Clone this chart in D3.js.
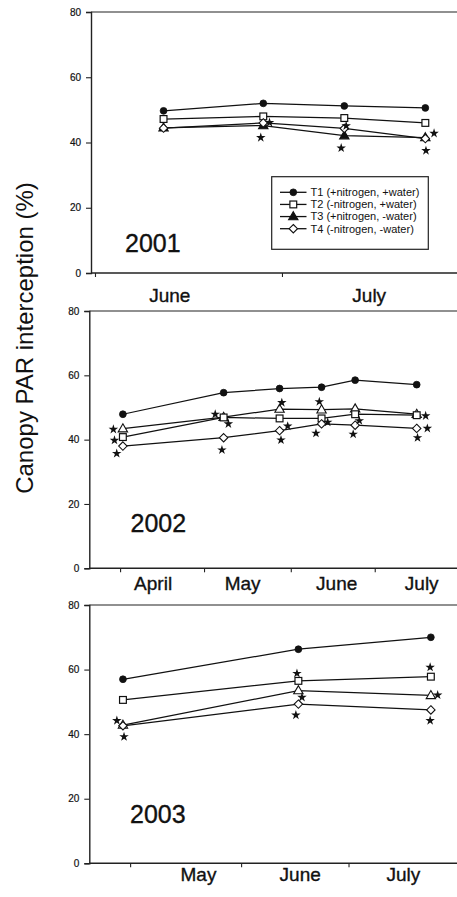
<!DOCTYPE html>
<html><head><meta charset="utf-8">
<script src="https://cdn.jsdelivr.net/npm/d3@7"></script>
<style>
html,body{margin:0;padding:0;background:#fff;}
svg{display:block;}
text{font-family:"Liberation Sans",Arial,Helvetica,sans-serif;fill:#111;}
</style></head>
<body>
<svg id="chart" width="457" height="897"></svg>
<script>
// ---------- DATA ----------
const seriesNames = ["T1 (+nitrogen, +water)", "T2 (-nitrogen, +water)", "T3 (+nitrogen, -water)", "T4 (-nitrogen, -water)"];
const yearLabels = ["2001", "2002", "2003"];
const yTicks = [0, 20, 40, 60, 80];
const yTitle = "Canopy PAR interception (%)";

// x values are day of year
const doy2001 = [163, 179, 192, 205];
const t1_2001 = [49.7, 52.0, 51.2, 50.6];
const t2_2001 = [47.2, 48.0, 47.5, 46.0];
const t3_2001 = [44.5, 45.2, 42.1, 41.5];
const t4_2001 = [44.4, 46.0, 44.3, 41.2];
const stars2001 = [[178.6, 41.5], [180.0, 46.1], [191.5, 38.3], [192.3, 45.1], [205.1, 37.5], [206.4, 42.8]];
const monthTicks2001 = [152, 182];
const monthNames2001 = ["June", "July"];
const monthLabelPos2001 = [164, 196];

const doy2002 = [92, 128, 148, 163, 175, 197];
const t1_2002 = [47.9, 54.6, 55.9, 56.3, 58.5, 57.1];
const t2_2002 = [40.8, 46.9, 46.6, 46.6, 47.9, 47.6];
const t3_2002 = [43.4, 47.0, 49.5, 49.3, 49.6, 47.9];
const t4_2002 = [38.0, 40.6, 42.8, 44.9, 44.5, 43.5];
const stars2002 = [[88.6, 43.2], [89.0, 39.8], [89.8, 35.7], [125.0, 47.9], [129.7, 44.9], [127.4, 36.8],
  [148.8, 51.5], [150.9, 44.2], [148.5, 39.9], [162.2, 51.8], [165.2, 45.4], [161.0, 42.0],
  [176.5, 45.9], [174.3, 41.7], [200.2, 47.4], [200.8, 43.5], [197.3, 40.6]];
const monthTicks2002 = [91, 121, 152, 182];
const monthNames2002 = ["April", "May", "June", "July"];
const monthLabelPos2002 = [102.8, 134.8, 168.4, 198.8];

const doy2003 = [119, 168, 205];
const t1_2003 = [57.0, 66.3, 70.0];
const t2_2003 = [50.6, 56.5, 57.8];
const t3_2003 = [42.8, 53.5, 52.0];
const t4_2003 = [42.6, 49.3, 47.5];
const stars2003 = [[117.3, 44.2], [119.3, 39.2], [167.6, 58.8], [169.0, 51.4], [167.3, 45.9],
  [204.8, 60.7], [206.9, 52.1], [204.8, 44.2]];
const monthTicks2003 = [121, 152, 182];
const monthNames2003 = ["May", "June", "July"];
const monthLabelPos2003 = [140.1, 168.5, 197.3];

// ---------- LAYOUT ----------
const panels = [
  {year: yearLabels[0], doy: doy2001, series: [t1_2001, t2_2001, t3_2001, t4_2001], stars: stars2001,
   ticks: monthTicks2001, names: monthNames2001, labelPos: monthLabelPos2001,
   xDomain: [151.36, 210.08], left: 91, top: 12, bottom: 273, monthBase: 302,
   yearX: 125, yearY: 251.5, openTri: false, legend: true},
  {year: yearLabels[1], doy: doy2002, series: [t1_2002, t2_2002, t3_2002, t4_2002], stars: stars2002,
   ticks: monthTicks2002, names: monthNames2002, labelPos: monthLabelPos2002,
   xDomain: [80.0, 211.4], left: 89.3, top: 311, bottom: 568.3, monthBase: 589.5,
   yearX: 130.5, yearY: 531.5, openTri: true, legend: false},
  {year: yearLabels[2], doy: doy2003, series: [t1_2003, t2_2003, t3_2003, t4_2003], stars: stars2003,
   ticks: monthTicks2003, names: monthNames2003, labelPos: monthLabelPos2003,
   xDomain: [109.6, 212.3], left: 89.3, top: 605, bottom: 863.3, monthBase: 881,
   yearX: 130, yearY: 823.3, openTri: true, legend: false}
];
const RIGHT = 457;
const markerOrder = [2, 1, 3, 0];

const svg = d3.select("#chart");
svg.append("rect").attr("width", 457).attr("height", 897).attr("fill", "#fff");

function marker(g, type, x, y, openTri) {
  if (type === 0) {
    g.append("circle").attr("cx", x).attr("cy", y).attr("r", 3.4).attr("fill", "#111").attr("stroke", "#111").attr("stroke-width", 0.8);
  } else if (type === 1) {
    g.append("rect").attr("x", x - 3.4).attr("y", y - 3.4).attr("width", 6.8).attr("height", 6.8)
      .attr("fill", "#fff").attr("stroke", "#111").attr("stroke-width", 1.2);
  } else if (type === 2) {
    g.append("path").attr("d", d3.symbol(d3.symbolTriangle, 38)()).attr("transform", `translate(${x},${y + 0.5})`)
      .attr("fill", openTri ? "#fff" : "#111").attr("stroke", "#111").attr("stroke-width", 1.1);
  } else {
    g.append("path").attr("d", `M0,-4.2L4.2,0L0,4.2L-4.2,0Z`).attr("transform", `translate(${x},${y})`)
      .attr("fill", "#fff").attr("stroke", "#111").attr("stroke-width", 1.1);
  }
}

panels.forEach(p => {
  const x = d3.scaleLinear().domain(p.xDomain).range([p.left, RIGHT]);
  const y = d3.scaleLinear().domain([0, 80]).range([p.bottom, p.top]);
  const g = svg.append("g");

  // frame: top line
  g.append("line").attr("x1", p.left).attr("x2", RIGHT).attr("y1", p.top).attr("y2", p.top)
    .attr("stroke", "#222").attr("stroke-width", 1.2);

  // y axis
  const ya = g.append("g").attr("transform", `translate(${p.left},0)`)
    .call(d3.axisLeft(y).tickValues(yTicks).tickSize(5).tickPadding(5).tickFormat(d3.format("d")));
  ya.select(".domain").attr("stroke", "#222").attr("stroke-width", 1.4);
  ya.selectAll(".tick line").attr("stroke", "#222").attr("stroke-width", 1.1);
  ya.selectAll(".tick text").attr("font-size", 10).attr("font-family", "Liberation Sans, Arial, sans-serif")
    .attr("fill", "#111").attr("stroke", "#111").attr("stroke-width", 0.2);

  // x axis
  const xa = g.append("g").attr("transform", `translate(0,${p.bottom})`)
    .call(d3.axisBottom(x).tickValues(p.ticks).tickSize(4).tickFormat(""));
  xa.select(".domain").attr("d", `M${p.left},0H${RIGHT}`).attr("stroke", "#222").attr("stroke-width", 1.4);
  xa.selectAll(".tick line").attr("stroke", "#222").attr("stroke-width", 1.1);

  // month labels
  g.selectAll(".month").data(p.names).enter().append("text")
    .attr("x", (d, i) => x(p.labelPos[i])).attr("y", p.monthBase)
    .attr("text-anchor", "middle").attr("font-size", 19)
    .attr("stroke", "#111").attr("stroke-width", 0.35)
    .text(d => d);

  // year label
  g.append("text").attr("x", p.yearX).attr("y", p.yearY).attr("font-size", 25)
    .attr("stroke", "#111").attr("stroke-width", 0.35).text(p.year);

  // lines
  const line = d3.line().x((d, i) => x(p.doy[i])).y(d => y(d));
  for (let s = p.series.length - 1; s >= 0; s--) {
    g.append("path").attr("d", line(p.series[s])).attr("fill", "none")
      .attr("stroke", "#111").attr("stroke-width", 1.25);
  }
  markerOrder.forEach(s => {
    p.series[s].forEach((v, i) => marker(g, s, x(p.doy[i]), y(v), p.openTri));
  });

  // significance stars
  g.selectAll(".star").data(p.stars).enter().append("path")
    .attr("d", d3.symbol(d3.symbolStar, 28)())
    .attr("transform", d => `translate(${x(d[0])},${y(d[1])})`)
    .attr("fill", "#111");

  // legend
  if (p.legend) {
    const lg = g.append("g");
    lg.append("rect").attr("x", 271.7).attr("y", 176.7).attr("width", 156.6).attr("height", 72.6)
      .attr("fill", "#fff").attr("stroke", "#222").attr("stroke-width", 1.2);
    const rowY = d3.scaleLinear().domain([0, 3]).range([192.3, 228.7]);
    seriesNames.forEach((name, i) => {
      const yy = rowY(i);
      lg.append("line").attr("x1", 280).attr("x2", 306.5).attr("y1", yy).attr("y2", yy)
        .attr("stroke", "#111").attr("stroke-width", 1.3);
      marker(lg, i, 293.3, yy, false);
      lg.append("text").attr("x", 310.5).attr("y", yy + 3.8).attr("font-size", 11).text(name);
    });
  }
});

// y title
svg.append("text").attr("transform", "translate(33,338) rotate(-90)")
  .attr("text-anchor", "middle").attr("font-size", 24).text(yTitle);
</script>
</body></html>
